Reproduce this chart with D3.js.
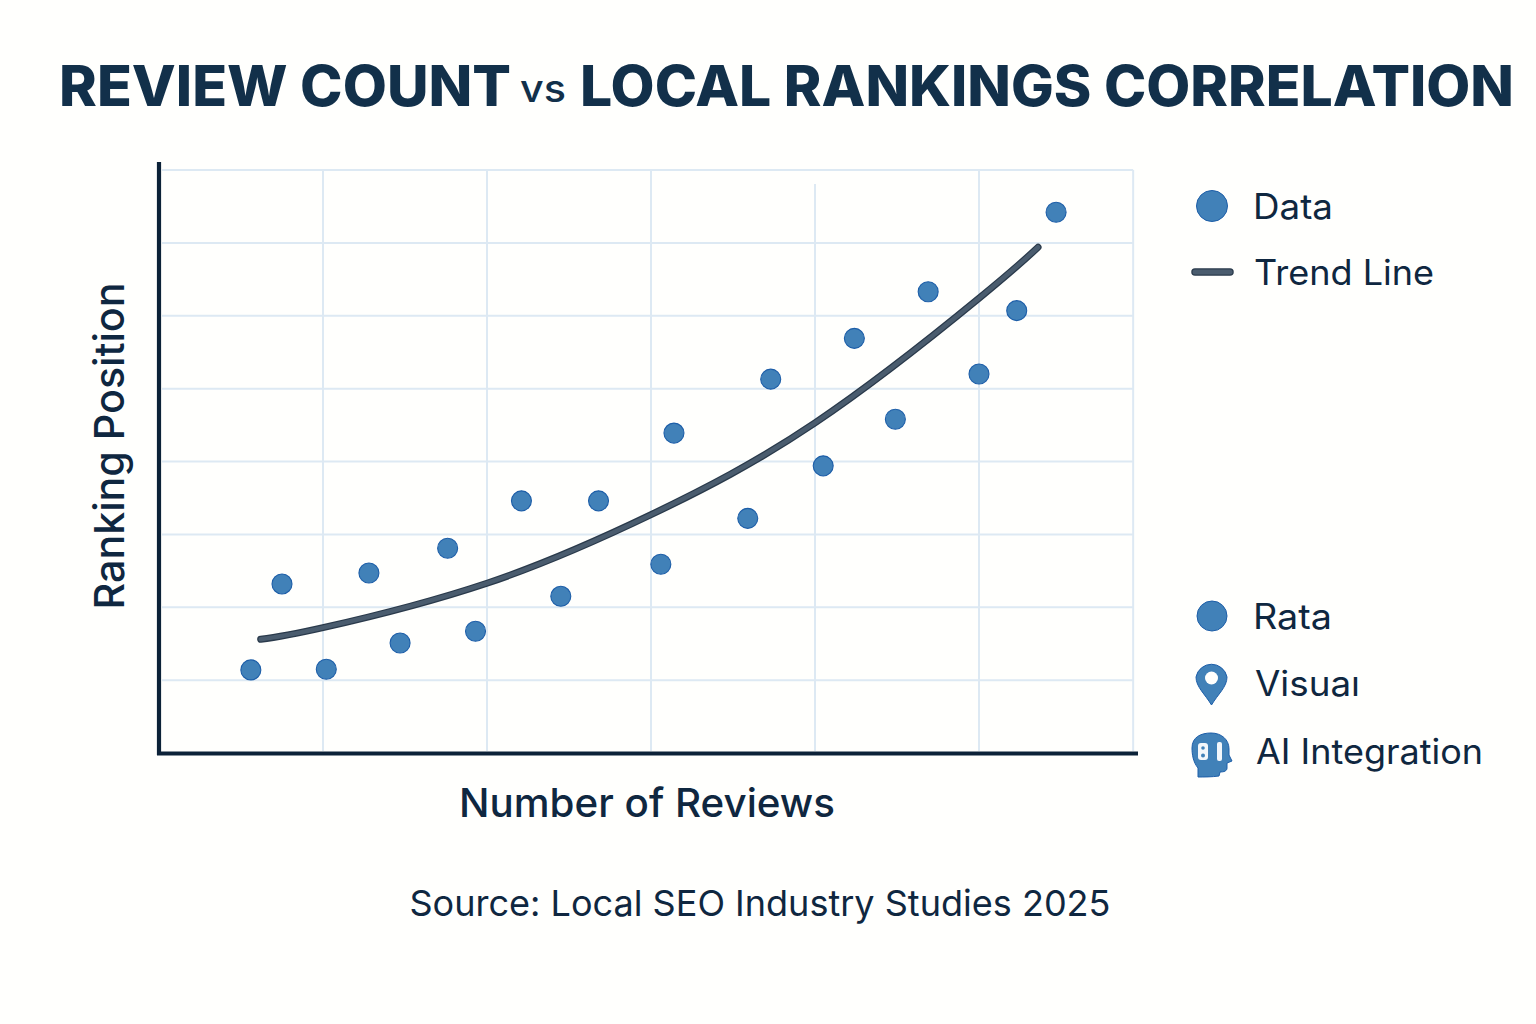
<!DOCTYPE html>
<html>
<head>
<meta charset="utf-8">
<script src="https://cdn.jsdelivr.net/npm/d3@7/dist/d3.min.js"></script>
<style>
  html, body { margin: 0; padding: 0; background: #fffffd; }
  svg { display: block; }
  text { font-family: Inter, "Noto Sans", sans-serif; fill: #0f2740; }
</style>
</head>
<body>
<svg id="chart" width="1536" height="1024"></svg>
<script>
// Scatter observations: reviews and ranking score
const reviewCounts = [56, 75, 102, 128, 147, 176, 193, 221, 245, 268, 306, 314, 359, 373, 405, 424, 449, 469, 500, 523, 547];
const rankingScores = [1.14, 2.32, 1.15, 2.47, 1.51, 2.81, 1.67, 3.46, 2.15, 3.46, 2.59, 4.39, 3.22, 5.13, 3.94, 5.69, 4.58, 6.33, 5.2, 6.07, 7.42];

// Fitted trend curve
const trendReviews = [62, 100, 200, 300, 400, 500, 536];
const trendScores = [1.56, 1.72, 2.33, 3.27, 4.53, 6.24, 6.94];

// Unlabelled grid positions
const gridReviews = [100, 200, 300, 400, 500, 594];
const gridScores = [1, 2, 3, 4, 5, 6, 7, 8];

const legendTop = ["Data", "Trend Line"];
const legendBottom = ["Rata", "Visuaı", "AI Integration"];

const svg = d3.select("#chart");
const x = d3.scaleLinear().domain([0, 600]).range([159, 1143]);
const y = d3.scaleLinear().domain([0, 8]).range([753, 170]);

const BLUE = "#4181b8", BLUE_EDGE = "#1d5ea8", GRID = "#dde9f3", TREND = "#4a5c6e", TREND_EDGE = "#2a3a4b";

// Grid
const grid = svg.append("g").attr("stroke", GRID).attr("stroke-width", 2).attr("fill", "none");
grid.selectAll("line.h").data(gridScores).join("line").attr("class", "h")
  .attr("x1", 162).attr("x2", x(594)).attr("y1", d => y(d)).attr("y2", d => y(d));
grid.selectAll("line.v").data(gridReviews).join("line").attr("class", "v")
  .attr("x1", d => x(d)).attr("x2", d => x(d))
  .attr("y1", d => d === 400 ? 184 : y(8)).attr("y2", 751);

// Axes: bare domain lines with no ticks or labels
const xAxis = d3.axisBottom(x).tickValues([]).tickSize(0);
const yAxis = d3.axisLeft(y).tickValues([]).tickSize(0);
svg.append("g").attr("transform", "translate(0,753.5)").call(xAxis)
  .select(".domain").attr("d", "M157,0H1138").attr("stroke", "#0c2238").attr("stroke-width", 4.2);
svg.append("g").attr("transform", "translate(159,0)").call(yAxis)
  .select(".domain").attr("d", "M0,162V755").attr("stroke", "#0c2238").attr("stroke-width", 4.2);

// Trend curve: dark casing with a lighter core
const trendLine = d3.line().x(d => x(d[0])).y(d => y(d[1])).curve(d3.curveNatural);
const trendData = d3.zip(trendReviews, trendScores);
svg.append("path").datum(trendData)
  .attr("d", trendLine).attr("fill", "none").attr("stroke", TREND_EDGE)
  .attr("stroke-width", 7).attr("stroke-linecap", "round");
svg.append("path").datum(trendData)
  .attr("d", trendLine).attr("fill", "none").attr("stroke", TREND)
  .attr("stroke-width", 4.5).attr("stroke-linecap", "round");

// Points
svg.append("g").selectAll("circle").data(d3.zip(reviewCounts, rankingScores)).join("circle")
  .attr("cx", d => x(d[0])).attr("cy", d => y(d[1])).attr("r", 10)
  .attr("fill", BLUE).attr("stroke", BLUE_EDGE).attr("stroke-width", 1.1);

// Title, set in three runs
const titleInk = "#12304a";
const title = svg.append("g");
title.append("text").attr("x", 59).attr("y", 106).attr("font-size", 56).attr("font-weight", 800)
  .attr("textLength", 452).attr("lengthAdjust", "spacingAndGlyphs").style("fill", titleInk).text("REVIEW COUNT");
title.append("text").attr("x", 520).attr("y", 102).attr("font-size", 38).attr("font-weight", 500)
  .attr("textLength", 46).attr("lengthAdjust", "spacingAndGlyphs").style("fill", titleInk).text("vs");
title.append("text").attr("x", 580).attr("y", 106).attr("font-size", 56).attr("font-weight", 800)
  .attr("textLength", 934).attr("lengthAdjust", "spacingAndGlyphs").style("fill", titleInk).text("LOCAL RANKINGS CORRELATION");

// Axis titles
svg.append("text").attr("transform", "translate(124,446) rotate(-90)").attr("text-anchor", "middle")
  .attr("font-size", 41).attr("font-weight", 500).attr("textLength", 327).attr("lengthAdjust", "spacingAndGlyphs")
  .text("Ranking Position");
svg.append("text").attr("x", 647).attr("y", 817).attr("text-anchor", "middle")
  .attr("font-size", 40).attr("font-weight", 500).attr("textLength", 376).attr("lengthAdjust", "spacingAndGlyphs")
  .text("Number of Reviews");
svg.append("text").attr("x", 760).attr("y", 916).attr("text-anchor", "middle")
  .attr("font-size", 36).attr("font-weight", 400).attr("textLength", 701).attr("lengthAdjust", "spacingAndGlyphs")
  .text("Source: Local SEO Industry Studies 2025");

// Legend entries
const legendText = (label, lx, ly, len) => svg.append("text").attr("x", lx).attr("y", ly)
  .attr("font-size", 35).attr("font-weight", 400).attr("textLength", len)
  .attr("lengthAdjust", "spacingAndGlyphs").text(label);

svg.append("circle").attr("cx", 1212).attr("cy", 206).attr("r", 15.5).attr("fill", BLUE).attr("stroke", BLUE_EDGE).attr("stroke-width", 1);
legendText(legendTop[0], 1253, 219, 80);
svg.append("line").attr("x1", 1195).attr("x2", 1230).attr("y1", 272).attr("y2", 272)
  .attr("stroke", TREND_EDGE).attr("stroke-width", 7.5).attr("stroke-linecap", "round");
svg.append("line").attr("x1", 1195).attr("x2", 1230).attr("y1", 272).attr("y2", 272)
  .attr("stroke", TREND).attr("stroke-width", 5).attr("stroke-linecap", "round");
legendText(legendTop[1], 1254, 285, 180);

svg.append("circle").attr("cx", 1212).attr("cy", 616).attr("r", 15).attr("fill", BLUE).attr("stroke", BLUE_EDGE).attr("stroke-width", 1);
legendText(legendBottom[0], 1253, 629, 79);

// Map pin
svg.append("path")
  .attr("d", "M1211.5,705 C1205,694 1196,687 1196,677 A15.8,15.8 0 0 1 1227,677 C1227,687 1218,694 1211.5,705 Z")
  .attr("fill", BLUE).attr("stroke", BLUE_EDGE).attr("stroke-width", 1);
svg.append("circle").attr("cx", 1211.5).attr("cy", 678).attr("r", 6.5).attr("fill", "#fffffd");
legendText(legendBottom[1], 1255, 696, 105);

// Head silhouette with "AI" cut-outs
svg.append("path")
  .attr("d", "M1198,777 L1198,768 C1193,762 1192,754 1192,748 C1192,737 1201,733 1211,733 C1222,733 1229,740 1229,749 L1229,755 L1232,761 L1227,763 L1227,768 C1227,771 1224,772 1220,772 L1219,776 C1212,777 1204,777 1198,777 Z")
  .attr("fill", BLUE).attr("stroke", BLUE_EDGE).attr("stroke-width", 1);
svg.append("rect").attr("x", 1198).attr("y", 743).attr("width", 10).attr("height", 17).attr("rx", 3).attr("fill", "#f3f7fb");
svg.append("circle").attr("cx", 1203).attr("cy", 748).attr("r", 1.8).attr("fill", BLUE);
svg.append("circle").attr("cx", 1203).attr("cy", 755.5).attr("r", 2).attr("fill", BLUE);
svg.append("rect").attr("x", 1217).attr("y", 742).attr("width", 5).attr("height", 19).attr("rx", 2).attr("fill", "#f3f7fb");
legendText(legendBottom[2], 1256, 764, 227);
</script>
</body>
</html>
